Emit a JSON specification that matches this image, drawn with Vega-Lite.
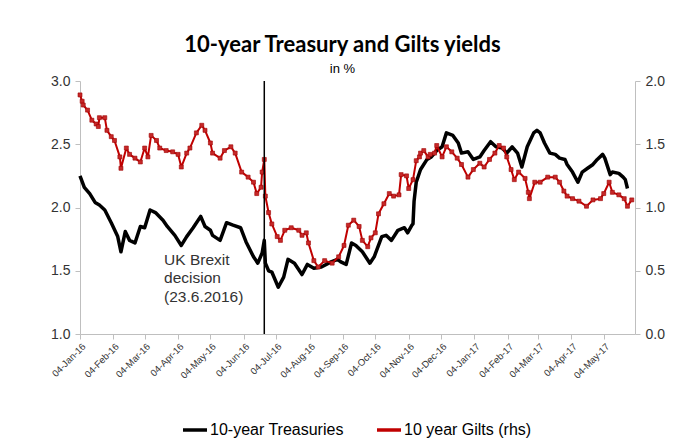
{
  "$schema": "https://vega.github.io/schema/vega-lite/v6.json",
  "width": 555,
  "height": 253,
  "autosize": {"type": "none"},
  "padding": {"left": 80, "top": 81, "right": 62, "bottom": 111},
  "background": "white",
  "config": {
    "view": {"stroke": null},
    "font": "Liberation Sans",
    "axis": {"labelFont": "Liberation Sans", "grid": false, "title": null, "tickColor": "#bfbfbf", "domainColor": "#bfbfbf", "labelColor": "#333333", "tickSize": 5},
    "axisX": {"labelAngle": -45, "labelFontSize": 9.5, "labelPadding": 2, "labelOverlap": false},
    "axisY": {"labelFontSize": 14, "labelPadding": 5},
    "legend": {"labelFont": "Liberation Sans"}
  },
  "title": {
    "text": "10-year Treasury and Gilts yields",
    "subtitle": "in %",
    "font": "Lato",
    "fontWeight": "bold",
    "fontSize": 22,
    "color": "#000000",
    "subtitleFont": "Liberation Sans",
    "subtitleFontSize": 13,
    "subtitleColor": "#000000",
    "anchor": "middle",
    "offset": -3,
    "subtitlePadding": 6,
    "dx": -15
  },
  "datasets": {
    "treasuries": [
      {"date": "2016-01-04", "yield": 2.25}, {"date": "2016-01-08", "yield": 2.16}, {"date": "2016-01-13", "yield": 2.11},
      {"date": "2016-01-18", "yield": 2.04}, {"date": "2016-01-22", "yield": 2.02}, {"date": "2016-01-27", "yield": 1.98},
      {"date": "2016-02-02", "yield": 1.88}, {"date": "2016-02-08", "yield": 1.77}, {"date": "2016-02-11", "yield": 1.65},
      {"date": "2016-02-15", "yield": 1.81}, {"date": "2016-02-19", "yield": 1.74}, {"date": "2016-02-24", "yield": 1.72},
      {"date": "2016-02-29", "yield": 1.85}, {"date": "2016-03-04", "yield": 1.84}, {"date": "2016-03-09", "yield": 1.98},
      {"date": "2016-03-14", "yield": 1.96}, {"date": "2016-03-21", "yield": 1.90}, {"date": "2016-03-25", "yield": 1.85},
      {"date": "2016-04-01", "yield": 1.78}, {"date": "2016-04-07", "yield": 1.70}, {"date": "2016-04-12", "yield": 1.77},
      {"date": "2016-04-18", "yield": 1.84}, {"date": "2016-04-25", "yield": 1.93}, {"date": "2016-04-29", "yield": 1.85},
      {"date": "2016-05-04", "yield": 1.82}, {"date": "2016-05-06", "yield": 1.78}, {"date": "2016-05-13", "yield": 1.74},
      {"date": "2016-05-19", "yield": 1.88}, {"date": "2016-05-25", "yield": 1.86}, {"date": "2016-06-01", "yield": 1.84},
      {"date": "2016-06-06", "yield": 1.73}, {"date": "2016-06-13", "yield": 1.61}, {"date": "2016-06-17", "yield": 1.56},
      {"date": "2016-06-21", "yield": 1.64}, {"date": "2016-06-23", "yield": 1.74}, {"date": "2016-06-24", "yield": 1.56},
      {"date": "2016-06-27", "yield": 1.50}, {"date": "2016-06-30", "yield": 1.49}, {"date": "2016-07-06", "yield": 1.37},
      {"date": "2016-07-11", "yield": 1.45}, {"date": "2016-07-15", "yield": 1.59}, {"date": "2016-07-21", "yield": 1.56},
      {"date": "2016-07-28", "yield": 1.47}, {"date": "2016-08-02", "yield": 1.55}, {"date": "2016-08-08", "yield": 1.52},
      {"date": "2016-08-15", "yield": 1.53}, {"date": "2016-08-24", "yield": 1.57}, {"date": "2016-08-30", "yield": 1.59},
      {"date": "2016-09-02", "yield": 1.57}, {"date": "2016-09-07", "yield": 1.55}, {"date": "2016-09-12", "yield": 1.72},
      {"date": "2016-09-16", "yield": 1.70}, {"date": "2016-09-22", "yield": 1.65}, {"date": "2016-09-29", "yield": 1.56},
      {"date": "2016-10-03", "yield": 1.61}, {"date": "2016-10-10", "yield": 1.77}, {"date": "2016-10-14", "yield": 1.78},
      {"date": "2016-10-19", "yield": 1.74}, {"date": "2016-10-25", "yield": 1.82}, {"date": "2016-10-31", "yield": 1.84},
      {"date": "2016-11-03", "yield": 1.80}, {"date": "2016-11-07", "yield": 1.86}, {"date": "2016-11-08", "yield": 1.87},
      {"date": "2016-11-09", "yield": 2.05}, {"date": "2016-11-11", "yield": 2.20}, {"date": "2016-11-15", "yield": 2.30},
      {"date": "2016-11-21", "yield": 2.38}, {"date": "2016-11-25", "yield": 2.40}, {"date": "2016-11-30", "yield": 2.45},
      {"date": "2016-12-05", "yield": 2.48}, {"date": "2016-12-09", "yield": 2.59}, {"date": "2016-12-15", "yield": 2.57},
      {"date": "2016-12-20", "yield": 2.51}, {"date": "2016-12-23", "yield": 2.43}, {"date": "2016-12-29", "yield": 2.44},
      {"date": "2017-01-03", "yield": 2.38}, {"date": "2017-01-09", "yield": 2.40}, {"date": "2017-01-13", "yield": 2.45},
      {"date": "2017-01-19", "yield": 2.52}, {"date": "2017-01-24", "yield": 2.48}, {"date": "2017-01-30", "yield": 2.47},
      {"date": "2017-02-03", "yield": 2.43}, {"date": "2017-02-08", "yield": 2.48}, {"date": "2017-02-13", "yield": 2.43},
      {"date": "2017-02-17", "yield": 2.32}, {"date": "2017-02-22", "yield": 2.48}, {"date": "2017-02-28", "yield": 2.59},
      {"date": "2017-03-03", "yield": 2.61}, {"date": "2017-03-06", "yield": 2.59}, {"date": "2017-03-10", "yield": 2.51},
      {"date": "2017-03-15", "yield": 2.43}, {"date": "2017-03-20", "yield": 2.42}, {"date": "2017-03-24", "yield": 2.39},
      {"date": "2017-03-29", "yield": 2.38}, {"date": "2017-03-31", "yield": 2.34}, {"date": "2017-04-05", "yield": 2.28},
      {"date": "2017-04-10", "yield": 2.20}, {"date": "2017-04-14", "yield": 2.28}, {"date": "2017-04-19", "yield": 2.31},
      {"date": "2017-04-24", "yield": 2.34}, {"date": "2017-04-28", "yield": 2.38}, {"date": "2017-05-03", "yield": 2.42},
      {"date": "2017-05-05", "yield": 2.39}, {"date": "2017-05-10", "yield": 2.26}, {"date": "2017-05-12", "yield": 2.28},
      {"date": "2017-05-18", "yield": 2.27}, {"date": "2017-05-22", "yield": 2.24}, {"date": "2017-05-24", "yield": 2.22},
      {"date": "2017-05-26", "yield": 2.15}
    ],
    "gilts": [
      {"date": "2016-01-04", "yield": 1.89}, {"date": "2016-01-06", "yield": 1.84}, {"date": "2016-01-07", "yield": 1.81},
      {"date": "2016-01-11", "yield": 1.77}, {"date": "2016-01-15", "yield": 1.69}, {"date": "2016-01-19", "yield": 1.66},
      {"date": "2016-01-21", "yield": 1.64}, {"date": "2016-01-22", "yield": 1.71}, {"date": "2016-01-27", "yield": 1.71},
      {"date": "2016-01-29", "yield": 1.61}, {"date": "2016-02-02", "yield": 1.56}, {"date": "2016-02-05", "yield": 1.53},
      {"date": "2016-02-10", "yield": 1.40}, {"date": "2016-02-11", "yield": 1.31}, {"date": "2016-02-16", "yield": 1.47},
      {"date": "2016-02-19", "yield": 1.42}, {"date": "2016-02-24", "yield": 1.39}, {"date": "2016-02-29", "yield": 1.36},
      {"date": "2016-03-04", "yield": 1.47}, {"date": "2016-03-07", "yield": 1.40}, {"date": "2016-03-10", "yield": 1.57},
      {"date": "2016-03-15", "yield": 1.53}, {"date": "2016-03-18", "yield": 1.47}, {"date": "2016-03-24", "yield": 1.45},
      {"date": "2016-03-30", "yield": 1.44}, {"date": "2016-04-04", "yield": 1.42}, {"date": "2016-04-07", "yield": 1.32},
      {"date": "2016-04-12", "yield": 1.43}, {"date": "2016-04-15", "yield": 1.47}, {"date": "2016-04-21", "yield": 1.59},
      {"date": "2016-04-26", "yield": 1.65}, {"date": "2016-04-29", "yield": 1.61}, {"date": "2016-05-04", "yield": 1.51},
      {"date": "2016-05-06", "yield": 1.43}, {"date": "2016-05-13", "yield": 1.39}, {"date": "2016-05-17", "yield": 1.45},
      {"date": "2016-05-23", "yield": 1.48}, {"date": "2016-05-27", "yield": 1.43}, {"date": "2016-06-02", "yield": 1.28},
      {"date": "2016-06-08", "yield": 1.24}, {"date": "2016-06-13", "yield": 1.20}, {"date": "2016-06-16", "yield": 1.11},
      {"date": "2016-06-20", "yield": 1.16}, {"date": "2016-06-21", "yield": 1.28}, {"date": "2016-06-23", "yield": 1.38},
      {"date": "2016-06-24", "yield": 1.09}, {"date": "2016-06-27", "yield": 0.96}, {"date": "2016-06-30", "yield": 0.87},
      {"date": "2016-07-05", "yield": 0.77}, {"date": "2016-07-08", "yield": 0.74}, {"date": "2016-07-12", "yield": 0.82},
      {"date": "2016-07-18", "yield": 0.84}, {"date": "2016-07-25", "yield": 0.82}, {"date": "2016-07-28", "yield": 0.78},
      {"date": "2016-08-01", "yield": 0.80}, {"date": "2016-08-03", "yield": 0.72}, {"date": "2016-08-08", "yield": 0.58},
      {"date": "2016-08-12", "yield": 0.53}, {"date": "2016-08-18", "yield": 0.58}, {"date": "2016-08-25", "yield": 0.56},
      {"date": "2016-08-31", "yield": 0.61}, {"date": "2016-09-05", "yield": 0.70}, {"date": "2016-09-09", "yield": 0.86},
      {"date": "2016-09-14", "yield": 0.90}, {"date": "2016-09-19", "yield": 0.85}, {"date": "2016-09-22", "yield": 0.74},
      {"date": "2016-09-27", "yield": 0.69}, {"date": "2016-09-30", "yield": 0.76}, {"date": "2016-10-04", "yield": 0.80},
      {"date": "2016-10-07", "yield": 0.95}, {"date": "2016-10-12", "yield": 1.03}, {"date": "2016-10-17", "yield": 1.11},
      {"date": "2016-10-21", "yield": 1.09}, {"date": "2016-10-26", "yield": 1.10}, {"date": "2016-10-28", "yield": 1.26},
      {"date": "2016-11-02", "yield": 1.25}, {"date": "2016-11-04", "yield": 1.15}, {"date": "2016-11-08", "yield": 1.22},
      {"date": "2016-11-11", "yield": 1.37}, {"date": "2016-11-14", "yield": 1.40}, {"date": "2016-11-15", "yield": 1.43},
      {"date": "2016-11-18", "yield": 1.45}, {"date": "2016-11-22", "yield": 1.40}, {"date": "2016-11-24", "yield": 1.42},
      {"date": "2016-11-28", "yield": 1.43}, {"date": "2016-11-30", "yield": 1.49}, {"date": "2016-12-05", "yield": 1.40},
      {"date": "2016-12-09", "yield": 1.48}, {"date": "2016-12-14", "yield": 1.44}, {"date": "2016-12-19", "yield": 1.39},
      {"date": "2016-12-23", "yield": 1.34}, {"date": "2016-12-29", "yield": 1.24}, {"date": "2017-01-03", "yield": 1.30},
      {"date": "2017-01-09", "yield": 1.35}, {"date": "2017-01-13", "yield": 1.32}, {"date": "2017-01-18", "yield": 1.38},
      {"date": "2017-01-23", "yield": 1.43}, {"date": "2017-01-27", "yield": 1.49}, {"date": "2017-01-31", "yield": 1.47},
      {"date": "2017-02-03", "yield": 1.40}, {"date": "2017-02-07", "yield": 1.30}, {"date": "2017-02-10", "yield": 1.22},
      {"date": "2017-02-14", "yield": 1.28}, {"date": "2017-02-20", "yield": 1.23}, {"date": "2017-02-23", "yield": 1.12},
      {"date": "2017-02-24", "yield": 1.07}, {"date": "2017-03-01", "yield": 1.20}, {"date": "2017-03-06", "yield": 1.20},
      {"date": "2017-03-13", "yield": 1.24}, {"date": "2017-03-20", "yield": 1.24}, {"date": "2017-03-24", "yield": 1.20},
      {"date": "2017-03-28", "yield": 1.13}, {"date": "2017-03-31", "yield": 1.09}, {"date": "2017-04-05", "yield": 1.07},
      {"date": "2017-04-11", "yield": 1.05}, {"date": "2017-04-18", "yield": 1.01}, {"date": "2017-04-24", "yield": 1.06},
      {"date": "2017-05-01", "yield": 1.07}, {"date": "2017-05-04", "yield": 1.11}, {"date": "2017-05-09", "yield": 1.20},
      {"date": "2017-05-12", "yield": 1.12}, {"date": "2017-05-18", "yield": 1.10}, {"date": "2017-05-23", "yield": 1.07},
      {"date": "2017-05-26", "yield": 1.01}, {"date": "2017-05-30", "yield": 1.06}
    ]
  },
  "layer": [
    {
      "data": {"name": "treasuries"},
      "mark": {"type": "line", "strokeWidth": 3.5, "strokeJoin": "round"},
      "encoding": {
        "x": {
          "field": "date", "type": "temporal",
          "scale": {"type": "utc", "nice": false, "domain": [{"year": 2016, "month": 1, "date": 4, "utc": true}, {"year": 2017, "month": 6, "date": 2, "utc": true}]},
          "axis": {
            "labelExpr": "utcFormat(datum.value, '%d-%b-%y')", "labelOverlap": false,
            "values": [
              {"year": 2016, "month": 1, "date": 4, "utc": true}, {"year": 2016, "month": 2, "date": 4, "utc": true},
              {"year": 2016, "month": 3, "date": 4, "utc": true}, {"year": 2016, "month": 4, "date": 4, "utc": true},
              {"year": 2016, "month": 5, "date": 4, "utc": true}, {"year": 2016, "month": 6, "date": 4, "utc": true},
              {"year": 2016, "month": 7, "date": 4, "utc": true}, {"year": 2016, "month": 8, "date": 4, "utc": true},
              {"year": 2016, "month": 9, "date": 4, "utc": true}, {"year": 2016, "month": 10, "date": 4, "utc": true},
              {"year": 2016, "month": 11, "date": 4, "utc": true}, {"year": 2016, "month": 12, "date": 4, "utc": true},
              {"year": 2017, "month": 1, "date": 4, "utc": true}, {"year": 2017, "month": 2, "date": 4, "utc": true},
              {"year": 2017, "month": 3, "date": 4, "utc": true}, {"year": 2017, "month": 4, "date": 4, "utc": true},
              {"year": 2017, "month": 5, "date": 4, "utc": true}
            ]
          }
        },
        "y": {
          "field": "yield", "type": "quantitative",
          "scale": {"domain": [1, 3], "nice": false, "zero": false},
          "axis": {"orient": "left", "values": [1, 1.5, 2, 2.5, 3], "format": ".1f"}
        },
        "color": {
          "datum": "10-year Treasuries",
          "scale": {"domain": ["10-year Treasuries", "10 year Gilts (rhs)"], "range": ["#000000", "#c00000"]},
          "legend": {
            "orient": "none", "legendX": 101, "legendY": 335, "direction": "horizontal", "title": null,
            "symbolType": "stroke", "symbolStrokeWidth": 3.5, "symbolSize": 576, "labelFontSize": 16,
            "labelColor": "#000000", "columnPadding": 26, "labelOffset": 1
          }
        }
      }
    },
    {
      "data": {"name": "gilts"},
      "encoding": {
        "x": {
          "field": "date", "type": "temporal",
          "axis": {
            "labelExpr": "utcFormat(datum.value, '%d-%b-%y')", "labelOverlap": false,
            "values": [
              {"year": 2016, "month": 1, "date": 4, "utc": true}, {"year": 2016, "month": 2, "date": 4, "utc": true},
              {"year": 2016, "month": 3, "date": 4, "utc": true}, {"year": 2016, "month": 4, "date": 4, "utc": true},
              {"year": 2016, "month": 5, "date": 4, "utc": true}, {"year": 2016, "month": 6, "date": 4, "utc": true},
              {"year": 2016, "month": 7, "date": 4, "utc": true}, {"year": 2016, "month": 8, "date": 4, "utc": true},
              {"year": 2016, "month": 9, "date": 4, "utc": true}, {"year": 2016, "month": 10, "date": 4, "utc": true},
              {"year": 2016, "month": 11, "date": 4, "utc": true}, {"year": 2016, "month": 12, "date": 4, "utc": true},
              {"year": 2017, "month": 1, "date": 4, "utc": true}, {"year": 2017, "month": 2, "date": 4, "utc": true},
              {"year": 2017, "month": 3, "date": 4, "utc": true}, {"year": 2017, "month": 4, "date": 4, "utc": true},
              {"year": 2017, "month": 5, "date": 4, "utc": true}
            ]
          }
        },
        "y": {
          "field": "yield", "type": "quantitative",
          "scale": {"domain": [0, 2], "nice": false},
          "axis": {"orient": "right", "values": [0, 0.5, 1, 1.5, 2], "format": ".1f"}
        }
      },
      "layer": [
        {
          "mark": {"type": "line", "strokeWidth": 2, "strokeJoin": "round"},
          "encoding": {"color": {"datum": "10 year Gilts (rhs)"}}
        },
        {
          "mark": {"type": "point", "shape": "square", "filled": true, "size": 16, "color": "#c62828", "opacity": 1, "stroke": "#a00000", "strokeWidth": 0.6}
        }
      ]
    },
    {
      "data": {"values": [{"event": "UK Brexit decision", "date": "2016-06-23"}]},
      "mark": {"type": "rule", "color": "#000000", "strokeWidth": 1.5},
      "encoding": {
        "x": {
          "field": "date", "type": "temporal",
          "axis": {
            "labelExpr": "utcFormat(datum.value, '%d-%b-%y')", "labelOverlap": false,
            "values": [
              {"year": 2016, "month": 1, "date": 4, "utc": true}, {"year": 2016, "month": 2, "date": 4, "utc": true},
              {"year": 2016, "month": 3, "date": 4, "utc": true}, {"year": 2016, "month": 4, "date": 4, "utc": true},
              {"year": 2016, "month": 5, "date": 4, "utc": true}, {"year": 2016, "month": 6, "date": 4, "utc": true},
              {"year": 2016, "month": 7, "date": 4, "utc": true}, {"year": 2016, "month": 8, "date": 4, "utc": true},
              {"year": 2016, "month": 9, "date": 4, "utc": true}, {"year": 2016, "month": 10, "date": 4, "utc": true},
              {"year": 2016, "month": 11, "date": 4, "utc": true}, {"year": 2016, "month": 12, "date": 4, "utc": true},
              {"year": 2017, "month": 1, "date": 4, "utc": true}, {"year": 2017, "month": 2, "date": 4, "utc": true},
              {"year": 2017, "month": 3, "date": 4, "utc": true}, {"year": 2017, "month": 4, "date": 4, "utc": true},
              {"year": 2017, "month": 5, "date": 4, "utc": true}
            ]
          }
        }
      }
    },
    {
      "data": {"values": [{"label": "UK Brexit decision (23.6.2016)"}]},
      "mark": {"type": "text", "align": "left", "baseline": "middle", "fontSize": 15.5, "lineHeight": 18.5, "color": "#333333", "font": "Liberation Sans"},
      "encoding": {
        "x": {
          "datum": {"year": 2016, "month": 3, "date": 22, "utc": true}, "type": "temporal",
          "axis": {
            "labelExpr": "utcFormat(datum.value, '%d-%b-%y')", "labelOverlap": false,
            "values": [
              {"year": 2016, "month": 1, "date": 4, "utc": true}, {"year": 2016, "month": 2, "date": 4, "utc": true},
              {"year": 2016, "month": 3, "date": 4, "utc": true}, {"year": 2016, "month": 4, "date": 4, "utc": true},
              {"year": 2016, "month": 5, "date": 4, "utc": true}, {"year": 2016, "month": 6, "date": 4, "utc": true},
              {"year": 2016, "month": 7, "date": 4, "utc": true}, {"year": 2016, "month": 8, "date": 4, "utc": true},
              {"year": 2016, "month": 9, "date": 4, "utc": true}, {"year": 2016, "month": 10, "date": 4, "utc": true},
              {"year": 2016, "month": 11, "date": 4, "utc": true}, {"year": 2016, "month": 12, "date": 4, "utc": true},
              {"year": 2017, "month": 1, "date": 4, "utc": true}, {"year": 2017, "month": 2, "date": 4, "utc": true},
              {"year": 2017, "month": 3, "date": 4, "utc": true}, {"year": 2017, "month": 4, "date": 4, "utc": true},
              {"year": 2017, "month": 5, "date": 4, "utc": true}
            ]
          }
        },
        "y": {"datum": 1.585, "type": "quantitative", "scale": {"domain": [1, 3], "nice": false, "zero": false}, "axis": null},
        "text": {"value": ["UK Brexit", "decision", "(23.6.2016)"]}
      }
    }
  ],
  "resolve": {"scale": {"y": "independent"}}
}
